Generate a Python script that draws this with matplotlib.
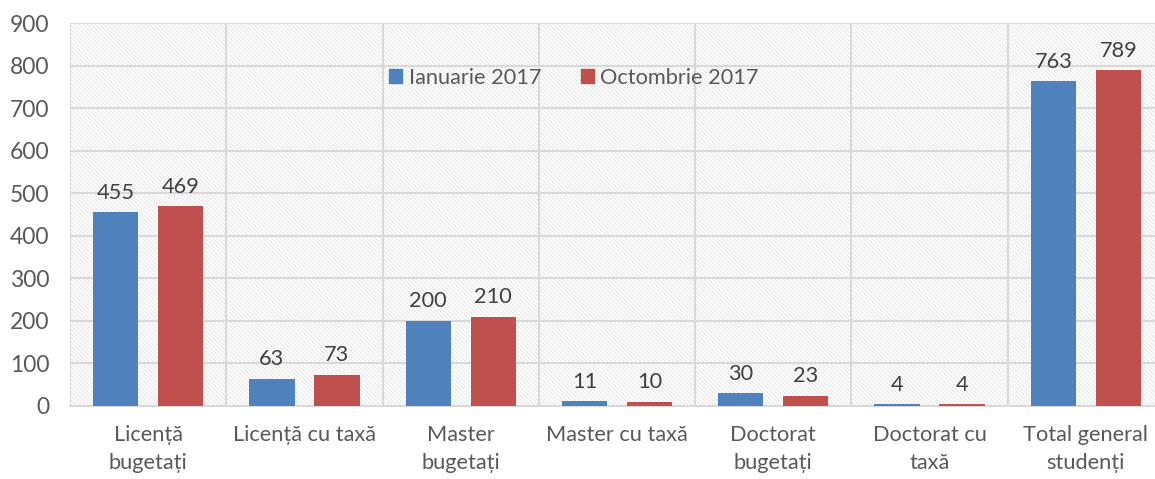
import numpy as np
import matplotlib.pyplot as plt
from matplotlib.patches import Patch

plt.rcParams['font.family'] = ['Lato', 'DejaVu Sans']
plt.rcParams['hatch.linewidth'] = 0.6
plt.rcParams['hatch.color'] = '#e0e0e0'

categories = ['Licență\nbugetați', 'Licență cu taxă', 'Master\nbugetați', 'Master cu taxă',
              'Doctorat\nbugetați', 'Doctorat cu\ntaxă', 'Total general\nstudenți']
ianuarie = [455, 63, 200, 11, 30, 4, 763]
octombrie = [469, 73, 210, 10, 23, 4, 789]
series_names = ['Ianuarie 2017', 'Octombrie 2017']

blue = '#4f81bd'
red = '#c0504d'
txt = '#595959'
grid = '#d9d9d9'
fs = 15.7

fig = plt.figure(figsize=(11.55, 4.79), dpi=100)
ax = fig.add_axes([70 / 1155, 73 / 479, 1094 / 1155, 383 / 479])

ax.patch.set_facecolor('white')
ax.patch.set_hatch('\\' * 8)
ax.patch.set_edgecolor('#e0e0e0')

x = np.arange(len(categories))
w = 0.29
off = 0.208
b1 = ax.bar(x - off, ianuarie, w, color=blue, zorder=3)
b2 = ax.bar(x + off, octombrie, w, color=red, zorder=3)

for bars in (b1, b2):
    for r in bars:
        ax.annotate(f'{int(r.get_height())}', (r.get_x() + r.get_width() / 2, r.get_height()),
                    xytext=(0, 7), textcoords='offset points', ha='center', va='bottom',
                    fontsize=fs, color='#404040')

ax.set_xlim(-0.5, len(categories) - 0.5)
ax.set_ylim(0, 900)
ax.set_yticks(range(0, 901, 100))
ax.set_xticks(x)
ax.set_xticklabels(categories, fontsize=fs, color=txt, linespacing=1.45)
ax.tick_params(axis='y', labelsize=16.5, labelcolor=txt, length=0, pad=15)
ax.tick_params(axis='x', length=0, pad=14)

for v in range(100, 901, 100):
    ax.axhline(v, color=grid, lw=1.5, zorder=1)
for b in np.arange(0.5, len(categories) - 0.5, 1):
    ax.axvline(b, color=grid, lw=1.5, zorder=1)
ax.axvline(-0.5, color=grid, lw=1.5, zorder=1)

for s in ['top', 'right', 'left']:
    ax.spines[s].set_visible(False)
ax.spines['bottom'].set_color(grid)
ax.spines['bottom'].set_linewidth(1.5)

handles = [Patch(color=blue), Patch(color=red)]
fig.legend(handles, series_names, loc='center', bbox_to_anchor=(574 / 1155, 1 - 78 / 479),
           ncol=2, frameon=False, fontsize=fs, labelcolor=txt, handlelength=0.6,
           handleheight=0.6, handletextpad=0.3, columnspacing=1.8)

fig.savefig('out.png', dpi=100)
